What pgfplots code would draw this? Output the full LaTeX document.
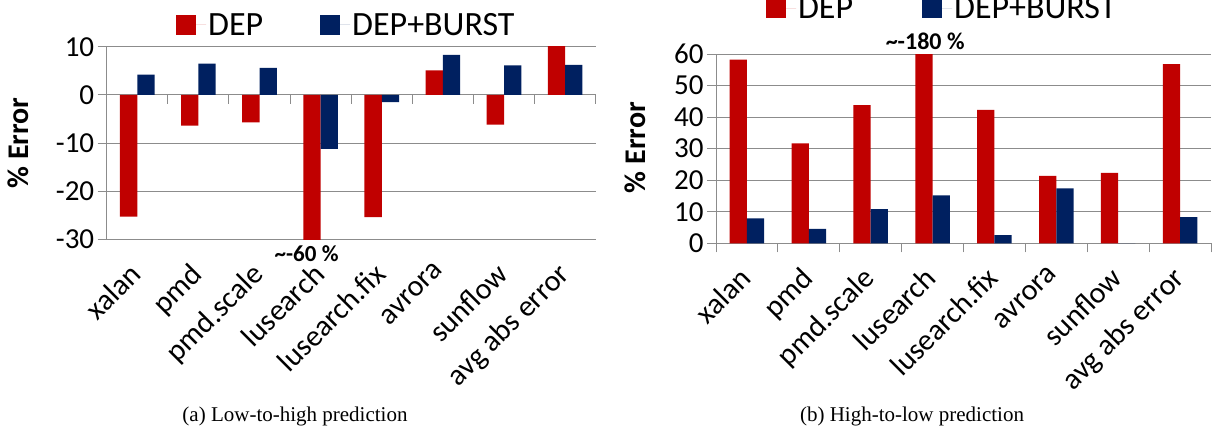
\documentclass[border=0pt]{standalone}
\usepackage{fontspec}
\setmainfont{Carlito}
\newfontfamily\capfont{Liberation Serif}
\usepackage{pgfplots}
\pgfplotsset{compat=1.18}

\definecolor{depred}{RGB}{192,0,0}
\definecolor{burstblue}{RGB}{0,32,96}
\definecolor{gridgray}{RGB}{140,140,140}

\pgfplotsset{
  sqlegend/.style={legend image code/.code={%
      \fill[##1,draw=none] (0pt,-10pt) rectangle (20pt,10pt);
      \path (0pt,0pt) -- (30pt,0pt);}},
  errchart/.style={
    scale only axis,
    ybar=0pt,
    bar width=17.3pt,
    clip mode=individual,
    xmin=-0.5, xmax=7.5,
    xtick={0,...,7},
    xticklabels={xalan,pmd,pmd.scale,lusearch,lusearch.fix,avrora,sunflow,avg abs error},
    axis x line*=bottom,
    axis y line*=left,
    axis line style={-, gridgray, line width=0.9pt},
    major x tick style={draw=none},
    y tick style={gridgray, line width=0.9pt},
    tick align=outside,
    major tick length=9pt,
    minor tick length=9pt,
    ymajorgrids,
    major grid style={gridgray, line width=0.9pt},
    % shifts act along the rotated label
    x tick label style={font=\fontsize{30}{30}\selectfont, rotate=45, anchor=north east,
      inner sep=0pt, xshift=-15.5pt, yshift=-2.5pt},
    y tick label style={font=\fontsize{29}{29}\selectfont, anchor=east},
    ylabel={\% Error},
    legend columns=2,
    legend style={draw=none, fill=none, anchor=center, font=\fontsize{34}{34}\selectfont},
  }
}

\begin{document}
\begin{tikzpicture}
\path[use as bounding box] (0,0) rectangle (1216pt,428pt);
\clip (0,0) rectangle (1216pt,428pt);

% (a) low-to-high
\begin{axis}[errchart,
  at={(106.7pt,188.7pt)}, anchor=south west,
  width=489pt, height=192.6pt,
  ymin=-30, ymax=10,
  ytick={-30,-20,-10,0,10},
  yticklabels={-30,-20,-10,0,10},
  ylabel style={font=\bfseries\fontsize{30}{30}\selectfont, at={(axis description cs:-0.1808,0.5)}, anchor=center},
  legend style={at={(axis description cs:0.49,1.113)},
    /tikz/every even column/.append style={column sep=55pt}},
]
\addplot[fill=depred, draw=none, sqlegend] coordinates {
  (0,-25.3) (1,-6.4) (2,-5.7) (3,-60) (4,-25.4) (5,5.1) (6,-6.2) (7,19.2)};
\addplot[fill=burstblue, draw=none, sqlegend] coordinates {
  (0,4.2) (1,6.5) (2,5.6) (3,-11.2) (4,-1.5) (5,8.3) (6,6.1) (7,6.2)};
\legend{DEP, DEP+BURST}
\pgfplotsinvokeforeach{-0.5,0.5,1.5,2.5,3.5,4.5,5.5,6.5,7.5}{
  \draw[gridgray, line width=0.9pt] (axis cs:#1,0) -- ++(0pt,-9pt);
}
\node[anchor=north, font=\bfseries\fontsize{23}{23}\selectfont, xshift=-14pt, yshift=-3pt]
  at (axis cs:3,-30) {\textasciitilde-60 \%};
\end{axis}

% (b) high-to-low
\begin{axis}[errchart,
  at={(716pt,184.7pt)}, anchor=south west,
  width=495pt, height=189.3pt,
  ymin=0, ymax=60,
  ytick={0,10,...,60},
  yticklabels={0,10,20,30,40,50,60},
  minor xtick={-0.5,0.5,...,7.5},
  minor x tick style={gridgray, line width=0.9pt},
  ylabel style={font=\bfseries\fontsize{30}{30}\selectfont, at={(axis description cs:-0.1636,0.506)}, anchor=center},
  legend style={at={(axis description cs:0.457,1.243)},
    /tikz/every even column/.append style={column sep=67pt}},
]
\addplot[fill=depred, draw=none, sqlegend] coordinates {
  (0,58.2) (1,31.7) (2,43.8) (3,180) (4,42.3) (5,21.4) (6,22.3) (7,56.8)};
\addplot[fill=burstblue, draw=none, sqlegend] coordinates {
  (0,7.9) (1,4.6) (2,10.8) (3,15.2) (4,2.6) (5,17.4) (6,0) (7,8.3)};
\legend{DEP, DEP+BURST}
\node[anchor=south, font=\bfseries\fontsize{24}{24}\selectfont, yshift=1pt]
  at (axis cs:2.88,60) {\textasciitilde-180 \%};
\end{axis}

\node[anchor=base, font=\capfont\fontsize{21}{21}\selectfont] at (295pt,6.3pt) {(a) Low-to-high prediction};
\node[anchor=base, font=\capfont\fontsize{21}{21}\selectfont] at (912pt,6.3pt) {(b) High-to-low prediction};
\end{tikzpicture}
\end{document}
